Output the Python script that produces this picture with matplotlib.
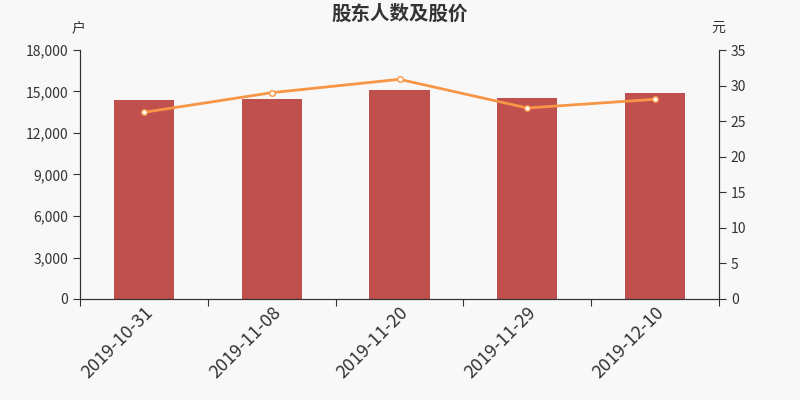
import matplotlib.pyplot as plt
from matplotlib.ticker import FuncFormatter

plt.rcParams['font.family'] = ['Noto Sans CJK SC', 'DejaVu Sans']

dates = ["2019-10-31", "2019-11-08", "2019-11-20", "2019-11-29", "2019-12-10"]
holders = [14386, 14458, 15108, 14530, 14892]
price = [26.24, 29.0, 30.88, 26.85, 28.07]

bg = "#f8f8f8"
fig = plt.figure(figsize=(8, 4), dpi=100, facecolor=bg)
ax = fig.add_axes([80 / 800, 1 - 299 / 400, 639 / 800, 249 / 400])
ax.set_facecolor(bg)

x = range(len(dates))
ax.bar(x, holders, width=0.47, color="#c0504d", zorder=2)
ax.set_xlim(-0.5, len(dates) - 0.5)
ax.set_ylim(0, 18000)
ax.set_yticks(range(0, 18001, 3000))
ax.yaxis.set_major_formatter(FuncFormatter(lambda v, p: f"{int(v):,}"))

ax.set_xticks([i - 0.5 for i in range(len(dates) + 1)])
ax.set_xticklabels([])
ax.set_xticks(list(x), minor=True)
ax.set_xticklabels(dates, minor=True, rotation=45, ha="right", rotation_mode="anchor",
                   fontsize=13, color="#333333")
ax.tick_params(axis="x", which="minor", length=0, pad=3)
ax.tick_params(axis="x", which="major", length=5, color="#333333")
ax.tick_params(axis="y", labelsize=10, colors="#333333", length=5)

ax2 = ax.twinx()
ax2.plot(list(x), price, color="#f79646", lw=2, marker="o", ms=4,
         mfc="white", mec="#f79646", mew=1, zorder=3)
ax2.set_ylim(0, 35)
ax2.set_yticks(range(0, 36, 5))
ax2.tick_params(axis="y", labelsize=10, colors="#333333", length=5)

for a in (ax, ax2):
    a.spines["top"].set_visible(False)
    for s in ("left", "right", "bottom"):
        a.spines[s].set_color("#333333")

fig.text(0.5, 1 - 14 / 400, "股东人数及股价", ha="center", va="center",
         fontsize=14, fontweight="bold", color="#333333")
fig.text(78 / 800, 1 - 28 / 400, "户", ha="center", va="center", fontsize=10, color="#333333")
fig.text(718 / 800, 1 - 28 / 400, "元", ha="center", va="center", fontsize=10, color="#333333")

fig.savefig("out.png", dpi=100, facecolor=bg)
